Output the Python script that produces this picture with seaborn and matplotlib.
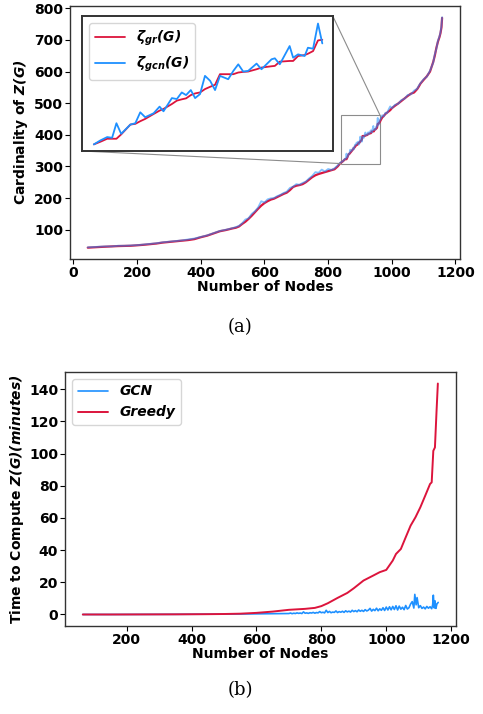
import numpy as np
import pandas as pd
import matplotlib
matplotlib.use("Agg")
import matplotlib.pyplot as plt
import seaborn as sns
from mpl_toolkits.axes_grid1.inset_locator import mark_inset

# ---- (a) cardinality of Z(G) ----
nodes_a = [45, 60, 80, 100, 120, 140, 160, 180, 200, 220, 240, 260, 280, 300, 320, 340, 360, 380,
           400, 420, 440, 460, 480, 500, 510, 520, 530, 540, 550, 560, 570, 580, 590, 600, 610, 620,
           630, 640, 650, 660, 670, 680, 690, 700, 710, 720, 730, 740, 750, 760, 770, 780, 790, 800,
           810, 820, 830, 838,
           846.7, 849.9, 853.2, 855.6, 857.7, 860.0, 864.5, 866.9, 869.3, 871.7, 875.8, 878.7, 880.6,
           884.7, 887.1, 889.5, 891.6, 893.9, 896.0, 898.4, 900.8, 903.3, 905.7, 908.1, 912.1, 914.6,
           917.0, 919.4, 921.8, 925.9, 928.3, 933.2, 934.8, 937.2, 942.0, 943.7, 946.1, 949.3, 950.9,
           953.4, 955.8, 957.9,
           962, 966, 970, 975, 980, 985, 990, 995, 1000, 1010, 1020, 1030, 1040, 1050, 1060, 1070,
           1080, 1085, 1090, 1100, 1110, 1120, 1130, 1135, 1140, 1145, 1150, 1153, 1156, 1158]
greedy_a = [43, 44, 45, 46, 47, 48, 48.5, 49, 50.5, 52, 54, 56, 59, 61, 63, 65, 67, 70,
            76, 81, 88, 95, 99, 104, 106, 110, 118, 125, 134, 144, 155, 166, 176, 184, 190, 195,
            198, 203, 208, 213, 217, 225, 235, 239, 241, 244, 250, 258, 266, 272, 276, 279, 282, 285,
            288, 291, 300, 310,
            316.5, 319.5, 322.9, 322.9, 322.9, 327.8, 339.0, 339.8, 342.8, 345.4, 351.0, 354.8, 356.7,
            362.3, 366.1, 367.6, 368.7, 372.4, 374.3, 375.4, 379.2, 381.8, 384.1, 396.1, 396.1, 396.1,
            398.0, 398.7, 399.1, 401.7, 403.6, 405.1, 405.5, 410.3, 411.1, 411.1, 416.7, 417.8, 419.3,
            422.3, 434.4, 435.1,
            440, 448, 455, 460, 466, 470, 474, 478, 484, 492, 499, 507, 515, 523, 530, 534,
            545, 553, 562, 574, 585, 600, 630, 650, 675, 695, 710, 722, 740, 770]
gcn_a = [44, 45, 46, 47, 47, 49, 49, 50, 51, 53, 55, 57, 60, 62, 64, 66, 69, 72,
         77, 82, 89, 96, 100, 105, 108, 112, 120, 132, 136, 150, 158, 170, 190, 186, 196, 199,
         200, 206, 210, 216, 220, 232, 236, 244, 242, 248, 252, 262, 270, 282, 280, 290, 284, 292,
         289, 294, 303, 312,
         316.5, 321.0, 324.8, 324.0, 340.5, 328.5, 339.0, 340.5, 352.9, 347.3, 351.8, 359.3, 354.0,
         369.0, 367.9, 375.4, 372.4, 378.1, 369.0, 373.6, 394.2, 388.6, 378.1, 394.2, 390.4, 399.8,
         407.3, 399.1, 399.8, 408.1, 401.7, 413.0, 414.1, 407.3, 428.0, 414.8, 418.6, 416.7, 426.1,
         425.0, 453.5, 431.0,
         446, 452, 462, 458, 470, 468, 480, 490, 484, 495, 498, 510, 514, 526, 528, 540,
         546, 556, 563, 576, 584, 603, 628, 655, 672, 698, 712, 725, 745, 772]

# ---- (b) time to compute ----
nodes_greedy = [65, 150, 250, 350, 450, 500, 550, 600, 650, 700, 750, 780, 800, 820, 850, 880, 900,
                930, 960, 980, 1000, 1020, 1030, 1045, 1060, 1075, 1090, 1105, 1120, 1135, 1140,
                1145, 1150, 1155, 1159]
time_greedy = [0.0, 0.0, 0.05, 0.1, 0.2, 0.3, 0.5, 1.0, 1.8, 2.9, 3.5, 4.1, 5.2, 7.0, 10.3, 13.4, 16.3,
               21.1, 24.2, 26.3, 27.7, 33.5, 37.6, 40.7, 48.0, 55.2, 60.4, 66.6, 73.8, 81.1, 82.1,
               101.7, 103.8, 126.6, 143.5]
nodes_gcn = [65, 150, 250, 350, 450, 500, 550, 600, 650,
             700, 705, 710, 715, 720, 725, 730, 735, 740, 745, 750, 755, 760, 765, 770, 775, 780, 785,
             790, 795, 800, 805, 810, 815, 820, 825, 830, 835, 840, 845, 850, 855, 860, 865, 870, 875,
             880, 885, 890, 895, 900, 905, 910, 915, 920, 925, 930, 935, 940, 945, 950, 955, 960, 965,
             970, 975, 980, 985, 990, 995, 1000, 1005, 1010, 1015, 1020, 1025, 1030, 1035, 1040, 1045,
             1050, 1055, 1060, 1065, 1070, 1075, 1080, 1085, 1088, 1092, 1095, 1100, 1105, 1110, 1115,
             1120, 1125, 1130, 1135, 1140, 1143, 1145, 1148, 1150, 1153, 1156, 1160]
time_gcn = [0.0, 0.0, 0.05, 0.1, 0.2, 0.25, 0.3, 0.4, 0.5,
            0.6, 0.9, 0.5, 0.8, 0.6, 1.0, 0.7, 0.9, 0.6, 1.6, 0.8, 1.0, 0.7, 1.1, 0.9, 1.3, 0.8, 1.2,
            1.0, 1.8, 1.1, 1.4, 1.0, 2.6, 1.2, 1.9, 1.1, 1.5, 1.3, 2.2, 1.2, 1.8, 1.4, 2.0, 1.3, 2.3,
            1.6, 2.1, 1.5, 2.6, 1.8, 2.4, 1.7, 2.8, 2.0, 2.6, 1.9, 3.0, 2.2, 2.7, 3.8, 2.1, 3.2, 2.4,
            3.9, 2.3, 3.5, 2.6, 4.2, 2.5, 4.6, 2.8, 4.8, 2.9, 5.0, 3.1, 5.4, 2.8, 5.2, 3.3,
            4.5, 3.0, 5.6, 3.4, 4.2, 6.5, 8.0, 4.0, 12.5, 6.0, 10.5, 4.2, 5.5, 3.8, 4.6,
            3.5, 5.0, 3.9, 4.8, 3.6, 6.0, 12.0, 4.0, 8.5, 3.8, 6.5, 7.5]

RED = "crimson"
BLUE = "dodgerblue"
FS = 10

sns.set_style("ticks")
plt.rcParams["font.family"] = ["DejaVu Sans"]
plt.rcParams["font.weight"] = "bold"
plt.rcParams["axes.labelweight"] = "bold"
plt.rcParams["mathtext.fontset"] = "dejavusans"
plt.rcParams["text.color"] = "black"
plt.rcParams["axes.labelcolor"] = "black"
plt.rcParams["xtick.color"] = "black"
plt.rcParams["ytick.color"] = "black"

df_a = pd.DataFrame({"nodes": nodes_a, "greedy": greedy_a, "gcn": gcn_a})

fig = plt.figure(figsize=(4.83, 7.14), dpi=100)
ax1 = fig.add_axes([0.145, 0.637, 0.807, 0.355])
ax2 = fig.add_axes([0.1346, 0.1232, 0.8094, 0.3558])

# main curve (a)
sns.lineplot(data=df_a, x="nodes", y="greedy", color=RED, lw=1.6, ax=ax1)
sns.lineplot(data=df_a, x="nodes", y="gcn", color=BLUE, lw=1.3, alpha=0.55, ax=ax1)
ax1.set_xlabel("Number of Nodes", fontsize=FS, labelpad=0)
ax1.set_ylabel(r"Cardinality of $\mathbfit{Z(G)}$", fontsize=FS, labelpad=3)
ax1.set_xticks([0, 200, 400, 600, 800, 1000, 1200])
ax1.set_yticks([100, 200, 300, 400, 500, 600, 700, 800])
ax1.tick_params(labelsize=FS, length=3.5, pad=1.5)

# inset
axins = fig.add_axes([0.170, 0.7885, 0.519, 0.189])
sub = df_a[(df_a.nodes > 845) & (df_a.nodes < 959)]
sns.lineplot(data=sub, x="nodes", y="greedy", color=RED, lw=1.3, label=r"$\mathbfit{\zeta_{gr}(G)}$", ax=axins)
sns.lineplot(data=sub, x="nodes", y="gcn", color=BLUE, lw=1.3, label=r"$\mathbfit{\zeta_{gcn}(G)}$", ax=axins)
axins.set_xlim(841, 963)
axins.set_ylim(309, 462)
axins.set_xticks([])
axins.set_yticks([])
axins.set_xlabel("")
axins.set_ylabel("")
for s in axins.spines.values():
    s.set_linewidth(1.4)
    s.set_color("0.2")
axins.legend(loc="upper left", fontsize=FS, handlelength=2.2)
mark_inset(ax1, axins, loc1=1, loc2=3, fc="none", ec="0.55", lw=0.8)

# (b)
df_g = pd.DataFrame({"nodes": nodes_gcn, "time": time_gcn})
df_r = pd.DataFrame({"nodes": nodes_greedy, "time": time_greedy})
sns.lineplot(data=df_g, x="nodes", y="time", color=BLUE, lw=1.2, label="GCN", ax=ax2)
sns.lineplot(data=df_r, x="nodes", y="time", color=RED, lw=1.4, label="Greedy", ax=ax2)
ax2.set_xlabel("Number of Nodes", fontsize=FS, labelpad=0)
ax2.set_ylabel(r"Time to Compute $\mathbfit{Z(G)(minutes)}$", fontsize=FS, labelpad=2)
ax2.set_xticks([200, 400, 600, 800, 1000, 1200])
ax2.set_yticks([0, 20, 40, 60, 80, 100, 120, 140])
ax2.tick_params(labelsize=FS, length=3.5, pad=1.5)
ax2.legend(loc="upper left", prop={"weight": "bold", "style": "italic", "size": FS}, handlelength=2.2)

for ax in (ax1, ax2):
    for s in ax.spines.values():
        s.set_color("0.2")
        s.set_linewidth(1)

fig.text(0.497, 0.542, "(a)", ha="center", va="center", fontsize=13, family="DejaVu Serif", weight="normal")
fig.text(0.497, 0.033, "(b)", ha="center", va="center", fontsize=13, family="DejaVu Serif", weight="normal")

fig.savefig("out.png", dpi=100)
